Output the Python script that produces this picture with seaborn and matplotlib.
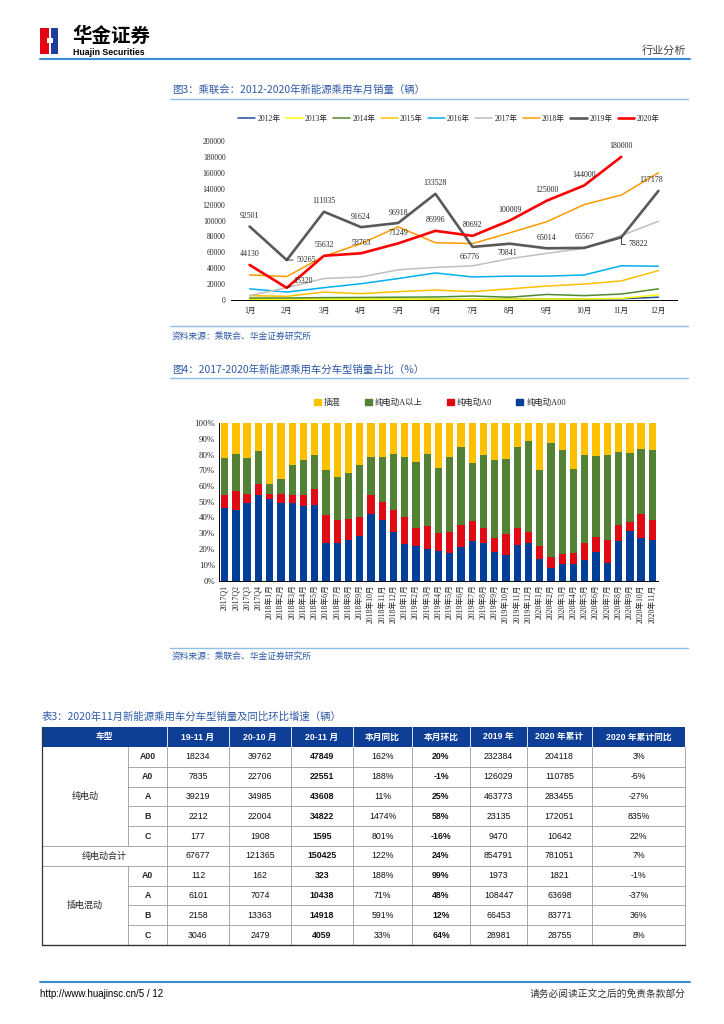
import numpy as np
import pandas as pd
import seaborn as sns
import matplotlib.pyplot as plt
from matplotlib.patches import Rectangle, Patch
from matplotlib.lines import Line2D

sns.set_theme(style="white")
plt.rcParams['font.family'] = ['Noto Sans CJK SC', 'DejaVu Sans']

W, H = 724, 1024
SERIF = ['Liberation Serif', 'Noto Sans CJK SC']
SANS = ['Liberation Sans', 'Noto Sans CJK SC']

# ---- chart 1 data: monthly NEV passenger car sales ----
months = ["1月", "2月", "3月", "4月", "5月", "6月", "7月", "8月", "9月", "10月", "11月", "12月"]
years = ["2012年", "2013年", "2014年", "2015年", "2016年", "2017年", "2018年", "2019年", "2020年"]
sales_2012 = [400, 500, 600, 600, 700, 800, 800, 900, 1000, 1200, 1500, 3500]
sales_2013 = [1000, 800, 1000, 1000, 1000, 1100, 1000, 1100, 1200, 1300, 2000, 6500]
sales_2014 = [2500, 2500, 3000, 3200, 3500, 3800, 5000, 3500, 7000, 5500, 7500, 14000]
sales_2015 = [5500, 4600, 10000, 8000, 10500, 12500, 10500, 14000, 17600, 20000, 24000, 37000]
sales_2016 = [14000, 10000, 15500, 20500, 27000, 34000, 29000, 30000, 30000, 31500, 43000, 42500]
sales_2017 = [5500, 15500, 27000, 29000, 38000, 41000, 43000, 52000, 58700, 65000, 81000, 99000]
sales_2018 = [31500, 29500, 55000, 71000, 92000, 72000, 71000, 84500, 98500, 120000, 132000, 160000]
sales_2019 = [92501, 50265, 111035, 91624, 96918, 133528, 66776, 70841, 65014, 65567, 78822, 137178]
sales_2020 = [44130, 15320, 55632, 58763, 71249, 86996, 80692, 100009, 125000, 144000, 180000]
line_colors = ["#1F4E9F", "#FFFF00", "#4E8A2E", "#FFC000", "#00B0F0",
               "#BFBFBF", "#FF9900", "#595959", "#FF0000"]

# ---- chart 2 data: share by segment (%) ----
periods = ["2017Q1", "2017Q2", "2017Q3", "2017Q4"] + \
          [f"2018年{m}月" for m in range(1, 13)] + \
          [f"2019年{m}月" for m in range(1, 13)] + \
          [f"2020年{m}月" for m in range(1, 12)]
share_a00 = [46, 45, 49, 54, 51.5, 49, 49, 47.5, 48, 23.5, 23.5, 26, 28.5, 42.5, 38.5, 30.5,
             23, 22, 20, 18.5, 17.5, 21, 25, 24, 18, 16.5, 22.5, 23.5,
             13.5, 8, 10.5, 10.5, 13, 18, 11, 25, 31.5, 27, 26]
share_a0 = [8, 12, 6, 7, 3.5, 6, 5, 6.5, 10, 18, 15, 13, 12, 11.5, 11.5, 14.5,
            17.5, 11.5, 14.5, 11.5, 13, 14, 13, 9.5, 9, 13, 11, 7,
            8.5, 7, 6.5, 7, 10.5, 9.5, 15, 10, 5.5, 15, 12.5]
share_a_up = [24, 23.5, 23, 21.5, 6, 9.5, 19.5, 22.5, 21.5, 28.5, 27.5, 29, 33, 24.5, 28.5, 35.5,
              38, 42, 46, 41.5, 48, 49.5, 36.5, 46, 49.5, 47.5, 51.5, 58,
              48, 72.5, 66, 53.5, 56, 51.5, 53.5, 46.5, 44, 41.5, 44.5]
share_phev = [22, 19.5, 22, 17.5, 39, 35.5, 26.5, 23.5, 20.5, 30, 34, 32, 26.5, 21.5, 21.5, 19.5,
              21.5, 24.5, 19.5, 28.5, 21.5, 15.5, 25.5, 20.5, 23.5, 23, 15, 11.5,
              30, 12.5, 17, 29, 20.5, 21, 20.5, 18.5, 19, 16.5, 17]
seg_names = ["插混", "纯电动A以上", "纯电动A0", "纯电动A00"]
seg_colors = ["#FFC000", "#538135", "#E00A14", "#003F98"]

# ---- table data ----
tbl_header = ["车型", "19-11 月", "20-10 月", "20-11 月", "本月同比", "本月环比", "2019 年", "2020 年累计", "2020 年累计同比"]
tbl_group = ["纯电动", "纯电动合计", "插电混动"]
tbl_sub = ["A00", "A0", "A", "B", "C", "", "A0", "A", "B", "C"]
col_1911 = [18234, 7835, 39219, 2212, 177, 67677, 112, 6101, 2158, 3046]
col_2010 = [39762, 22706, 34985, 22004, 1908, 121365, 162, 7074, 13363, 2479]
col_2011 = [47849, 22551, 43608, 34822, 1595, 150425, 323, 10438, 14918, 4059]
col_yoy = ["162%", "188%", "11%", "1474%", "801%", "122%", "188%", "71%", "591%", "33%"]
col_mom = ["20%", "-1%", "25%", "58%", "-16%", "24%", "99%", "48%", "12%", "64%"]
col_2019 = [232384, 126029, 463773, 23135, 9470, 854791, 1973, 108447, 66453, 28981]
col_2020 = [204118, 110785, 283455, 172051, 10642, 781051, 1821, 63698, 83771, 28755]
col_2020yoy = ["3%", "-5%", "-27%", "835%", "22%", "7%", "-1%", "-37%", "36%", "8%"]

fig = plt.figure(figsize=(W / 100, H / 100), dpi=100)
page = fig.add_axes([0, 0, 1, 1])
page.set_xlim(0, W)
page.set_ylim(H, 0)
page.set_axis_off()


def ax_rect(l, t, r, b):
    return [l / W, 1 - b / H, (r - l) / W, (b - t) / H]


BLUE_TXT = "#2E5AA8"
LINE_LIGHT = "#8FC1E8"

# header
page.add_patch(Rectangle((40, 28), 9, 26, color="#E60012", lw=0))
page.add_patch(Rectangle((50.5, 28), 7, 26, color="#1E3F98", lw=0))
page.add_patch(Rectangle((47, 38), 6, 5, color="white", lw=0))
page.text(72, 36.5, "华金证券", fontsize=14, fontweight="bold", va="center", ha="left", color="black")
page.text(73, 52.5, "Huajin Securities", fontsize=6.3, fontweight="bold", va="center", ha="left",
          family=SANS, color="black")
page.text(686, 50, "行业分析", fontsize=8, ha="right", va="center", color="#444444")
page.plot([40, 690], [59, 59], color="#3D8FD1", lw=1.5)

# figure titles / sources
page.text(172, 90, "图3：乘联会：2012-2020年新能源乘用车月销量（辆）", fontsize=7.5, color=BLUE_TXT, va="center")
page.plot([170, 688], [98.5, 98.5], color=LINE_LIGHT, lw=1)
page.plot([170, 688], [326, 326], color=LINE_LIGHT, lw=1)
page.text(172, 336, "资料来源：乘联会、华金证券研究所", fontsize=6.3, color=BLUE_TXT, va="center", style="italic")
page.text(172, 370, "图4：2017-2020年新能源乘用车分车型销量占比（%）", fontsize=7.5, color=BLUE_TXT, va="center")
page.plot([170, 688], [378, 378], color=LINE_LIGHT, lw=1)
page.plot([170, 688], [648, 648], color=LINE_LIGHT, lw=1)
page.text(172, 656, "资料来源：乘联会、华金证券研究所", fontsize=6.3, color=BLUE_TXT, va="center", style="italic")

# ---- line chart ----
ax1 = fig.add_axes(ax_rect(231, 141, 677, 300))
all_sales = [sales_2012, sales_2013, sales_2014, sales_2015, sales_2016,
             sales_2017, sales_2018, sales_2019, sales_2020]
rows = []
for yr, vals in zip(years, all_sales):
    for i, v in enumerate(vals):
        rows.append({"year": yr, "idx": i, "sales": v})
df_line = pd.DataFrame(rows)
handles = []
for yr, c in zip(years, line_colors):
    lw = 1.9 if yr in ("2019年", "2020年") else 1.1
    sns.lineplot(data=df_line[df_line.year == yr], x="idx", y="sales", ax=ax1,
                 color=c, lw=lw, legend=False)
    handles.append(Line2D([0], [0], color=c, lw=lw))
ax1.set_xlim(-0.5, 11.5)
ax1.set_ylim(0, 200000)
ax1.set_yticks(range(0, 200001, 20000))
ax1.set_yticklabels([str(v) for v in range(0, 200001, 20000)], fontsize=5.5, family=SERIF)
ax1.set_xticks(range(12))
ax1.set_xticklabels(months, fontsize=5.5, family=SERIF)
ax1.set_xlabel("")
ax1.set_ylabel("")
for s in ["top", "right", "left"]:
    ax1.spines[s].set_visible(False)
ax1.spines["bottom"].set_color("black")
ax1.spines["bottom"].set_linewidth(0.7)
ax1.set_xticks(np.arange(-0.5, 12, 1), minor=True)
ax1.tick_params(axis="x", which="minor", length=2, width=0.6, color="black", direction="out")
ax1.tick_params(axis="x", which="major", length=0, pad=5)
ax1.tick_params(axis="y", length=0, pad=4)
ax1.patch.set_alpha(0)

fig.legend(handles, years, loc="center", bbox_to_anchor=(449 / W, 1 - 119 / H), ncol=9,
           frameon=False, prop={"family": SERIF, "size": 5.5}, handlelength=2.2,
           columnspacing=0.7, handletextpad=0.3)

lab_kw = dict(textcoords="offset points", fontsize=5.7, family=SERIF, va="center", ha="center")
lead = dict(arrowstyle="-", lw=0.5, color="black", shrinkA=0, shrinkB=0)
for i, v in enumerate(sales_2019):
    if i == 1:
        ax1.annotate(str(v), (i, v), xytext=(7, 0), ha="left", va="center", textcoords="offset points",
                     fontsize=5.7, family=SERIF, arrowprops=lead)
    elif i == 10:
        ax1.annotate(str(v), (i, v), xytext=(5, -5), ha="left", va="center", textcoords="offset points",
                     fontsize=5.7, family=SERIF,
                     arrowprops=dict(lead, connectionstyle="angle,angleA=0,angleB=90"))
    elif i in (6, 7):
        ax1.annotate(str(v), (i, v), xytext=(-2, -7), **lab_kw)
    elif i == 11:
        ax1.annotate(str(v), (i, v), xytext=(-5, 8), **lab_kw)
    else:
        ax1.annotate(str(v), (i, v), xytext=(0, 7.5), **lab_kw)
for i, v in enumerate(sales_2020):
    if i == 1:
        ax1.annotate(str(v), (i, v), xytext=(5, 5), ha="left", va="center", textcoords="offset points",
                     fontsize=5.7, family=SERIF, arrowprops=lead)
    else:
        ax1.annotate(str(v), (i, v), xytext=(0, 7.5), **lab_kw)

# ---- stacked bar chart ----
ax2 = fig.add_axes(ax_rect(219, 423, 658, 580.5))
df_bar = pd.DataFrame({"period": periods, "A00": share_a00, "A0": share_a0,
                       "Aup": share_a_up, "PHEV": share_phev})
stack = df_bar[["A00", "A0", "Aup", "PHEV"]].cumsum(axis=1)
for col, c in zip(["PHEV", "Aup", "A0", "A00"], seg_colors):
    sns.barplot(x=df_bar["period"], y=stack[col], order=periods, color=c, saturation=1,
                width=0.65, errorbar=None, ax=ax2, linewidth=0)
ax2.set_xlim(-0.5, len(periods) - 0.5)
ax2.set_ylim(0, 100)
ax2.set_yticks(range(0, 101, 10))
ax2.set_yticklabels([f"{v}%" for v in range(0, 101, 10)], fontsize=6.3, family=SERIF)
ax2.set_xticks(range(len(periods)))
ax2.set_xticklabels(periods, rotation=90, fontsize=5.6, family=SERIF)
ax2.set_xlabel("")
ax2.set_ylabel("")
for s in ["top", "right"]:
    ax2.spines[s].set_visible(False)
for s in ["left", "bottom"]:
    ax2.spines[s].set_color("black")
    ax2.spines[s].set_linewidth(0.7)
ax2.tick_params(axis="x", length=0, pad=3)
ax2.tick_params(axis="y", length=0, pad=3)
ax2.patch.set_alpha(0)
bar_handles = [Patch(color=c) for c in seg_colors]
fig.legend(bar_handles, seg_names, loc="center", bbox_to_anchor=(440 / W, 1 - 403 / H), ncol=4,
           frameon=False, prop={"family": SERIF, "size": 6}, handlelength=0.8, handleheight=0.8,
           columnspacing=2.9, handletextpad=0.4)

# ---- table ----
page.text(42, 717, "表3：2020年11月新能源乘用车分车型销量及同比环比增速（辆）", fontsize=7.5,
          color=BLUE_TXT, va="center")
cx = [42, 128, 167, 229, 291, 353, 412, 470, 527, 592, 685]
top, hb, rh = 727, 747, 19.8
bottom = hb + 10 * rh
page.add_patch(Rectangle((cx[0], top), cx[-1] - cx[0], hb - top, color="#0E3E96", lw=0))
grid_c = "#9A9A9A"
for x in cx[2:-1]:
    page.plot([x, x], [top, hb], color="white", lw=0.6)
hdr_centers = [(cx[0] + cx[2]) / 2] + [(cx[k] + cx[k + 1]) / 2 for k in range(2, 10)]
for xc, t in zip(hdr_centers, tbl_header):
    page.text(xc, (top + hb) / 2, t, fontsize=6.3, fontweight="bold", color="white",
              ha="center", va="center", family=SANS)
for i in range(1, 10):
    y = hb + i * rh
    x0 = cx[0] if i in (5, 6) else cx[1]
    page.plot([x0, cx[-1]], [y, y], color=grid_c, lw=0.6)
page.plot([cx[1], cx[1]], [hb, hb + 5 * rh], color=grid_c, lw=0.6)
page.plot([cx[1], cx[1]], [hb + 6 * rh, bottom], color=grid_c, lw=0.6)
for x in cx[2:-1]:
    page.plot([x, x], [hb, bottom], color=grid_c, lw=0.6)
page.plot([cx[-1], cx[-1]], [hb, bottom], color=grid_c, lw=0.6)
page.plot([cx[0], cx[0]], [top, bottom], color="#333333", lw=0.9)
page.plot([cx[0], cx[-1]], [bottom, bottom], color="#333333", lw=1.0)

page.text((cx[0] + cx[1]) / 2, hb + 2.5 * rh, tbl_group[0], fontsize=6.5, ha="center", va="center")
page.text((cx[0] + cx[2]) / 2, hb + 5.5 * rh, tbl_group[1], fontsize=6.5, ha="center", va="center")
page.text((cx[0] + cx[1]) / 2, hb + 8 * rh, tbl_group[2], fontsize=6.5, ha="center", va="center")
data_cols = [col_1911, col_2010, col_2011, col_yoy, col_mom, col_2019, col_2020, col_2020yoy]
for r in range(10):
    yc = hb + (r + 0.5) * rh
    if tbl_sub[r]:
        page.text((cx[1] + cx[2]) / 2, yc, tbl_sub[r], fontsize=6.3, fontweight="bold",
                  ha="center", va="center", family=SANS)
    for k, col in enumerate(data_cols):
        page.text((cx[k + 2] + cx[k + 3]) / 2, yc, str(col[r]), fontsize=6.3,
                  fontweight="bold" if k in (2, 4) else "normal",
                  ha="center", va="center", family=SANS, color="#111111")

# footer
page.plot([40, 690], [982, 982], color="#3D8FD1", lw=1.5)
page.text(40, 994, "http://www.huajinsc.cn/5 / 12", fontsize=7, family=SANS, va="center", color="black")
page.text(686, 994, "请务必阅读正文之后的免责条款部分", fontsize=7, ha="right", va="center", color="#333333")

fig.savefig("out.png", dpi=100)
